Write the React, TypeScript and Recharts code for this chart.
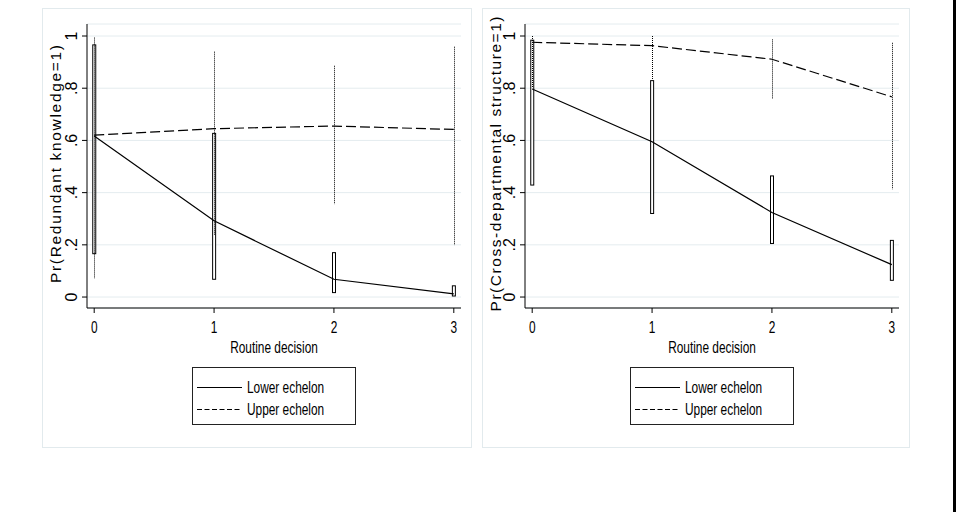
import { Bar, CartesianGrid, ComposedChart, Legend, Line, XAxis, YAxis } from "recharts"

// routine decision levels on the x axis
const decisions = [0, 1, 2, 3]
const yTicks = [0, 0.2, 0.4, 0.6, 0.8, 1]
const yTickLabels = ["0", ".2", ".4", ".6", ".8", "1"]

// Pr(Redundant knowledge=1)
const rkLower = [0.617, 0.292, 0.068, 0.012]
const rkUpper = [0.62, 0.645, 0.655, 0.642]
const rkLowerLo = [0.166, 0.068, 0.017, 0.004]
const rkLowerHi = [0.966, 0.627, 0.17, 0.043]
const rkUpperLo = [0.072, 0.238, 0.356, 0.199]
const rkUpperHi = [0.994, 0.94, 0.886, 0.959]

// Pr(Cross-departmental structure=1)
const csLower = [0.797, 0.595, 0.324, 0.124]
const csUpper = [0.976, 0.963, 0.911, 0.767]
const csLowerLo = [0.429, 0.32, 0.205, 0.064]
const csLowerHi = [0.984, 0.829, 0.464, 0.217]
const csUpperLo = [0.8, 0.831, 0.761, 0.413]
const csUpperHi = [1.0, 1.0, 0.987, 0.974]

const FONT = '"Liberation Sans", Arial, Helvetica, sans-serif'
const GRID = "#e4ecef"
const SQUEEZE = 0.72
const TEXT_SIZE = 16.5
const PANEL_H = 440
const PLOT_TOP = 16
const PLOT_BOTTOM = 300

const dashes: Record<string, string | undefined> = {
  lower: undefined,
  upper: "5 2.5"
}

type PanelProps = {
  left: number
  width: number
  axisWidth: number
  yLabel: string
  yLabelLength: number
  lower: number[]
  upper: number[]
  lowerLo: number[]
  lowerHi: number[]
  upperLo: number[]
  upperHi: number[]
}

function CiBox(props: any) {
  const { x, y, width, height } = props
  if (x == null || y == null) return null
  const top = Math.min(y, y + height)
  return (
    <rect
      x={x + 0.5}
      y={top}
      width={width - 1}
      height={Math.abs(height)}
      fill="#fff"
      stroke="#000"
      strokeWidth={1}
    />
  )
}

function CiSpike(props: any) {
  const { x, y, width, height } = props
  if (x == null || y == null) return null
  const cx = Math.round(x + width / 2) + 0.5
  return (
    <line
      x1={cx}
      x2={cx}
      y1={y}
      y2={y + height}
      stroke="#000"
      strokeWidth={1}
      strokeDasharray="1 1"
    />
  )
}

function LegendBox(props: any) {
  const items = (props.payload || []).filter((p: any) => p.type !== "none")
  return (
    <svg width={164} height={58} style={{ display: "block" }}>
      <rect x={0.5} y={0.5} width={163} height={57} fill="#fff" stroke="#222" />
      {items.map((item: any, i: number) => {
        const cy = 20 + i * 22
        return (
          <g key={item.value}>
            <line
              x1={5}
              x2={50}
              y1={cy + 0.5}
              y2={cy + 0.5}
              stroke="#000"
              strokeWidth={1.2}
              strokeDasharray={dashes[item.dataKey]}
            />
            <text
              transform={`translate(55,${cy + 6}) scale(${SQUEEZE},1)`}
              fontFamily={FONT}
              fontSize={TEXT_SIZE}
              fill="#000"
            >
              {item.value}
            </text>
          </g>
        )
      })}
    </svg>
  )
}

function Panel({
  left,
  width,
  axisWidth,
  yLabel,
  yLabelLength,
  lower,
  upper,
  lowerLo,
  lowerHi,
  upperLo,
  upperHi
}: PanelProps) {
  const rows = decisions.map((d, i) => ({
    decision: d,
    lower: lower[i],
    upper: upper[i],
    lowerCi: [lowerLo[i], lowerHi[i]],
    upperCi: [upperLo[i], upperHi[i]]
  }))
  const plotRight = width - 11
  const legendLeft = Math.round((axisWidth + plotRight) / 2 - 82)

  return (
    <div style={{ position: "absolute", left, top: 8, width, height: PANEL_H }}>
      <div
        style={{
          position: "absolute",
          inset: 0,
          border: "1px solid #e2eaed",
          background: "#fff"
        }}
      />
      <div style={{ position: "absolute", left: 0, top: 0 }}>
        <ComposedChart
          width={width}
          height={PANEL_H}
          data={rows}
          margin={{ top: PLOT_TOP, right: 11, bottom: 100, left: 0 }}
          barGap={-4}
        >
          <CartesianGrid stroke={GRID} vertical={false} />
          <XAxis
            dataKey="decision"
            type="number"
            domain={[-0.06, 3.06]}
            ticks={decisions}
            allowDataOverflow
            height={40}
            tickSize={5}
            stroke="#000"
            axisLine={{ stroke: "#000" }}
            tickLine={{ stroke: "#000" }}
            tick={(p: any) => (
              <text
                transform={`translate(${p.x},${PLOT_BOTTOM + 25}) scale(${SQUEEZE},1)`}
                textAnchor="middle"
                fontFamily={FONT}
                fontSize={TEXT_SIZE}
                fill="#000"
              >
                {p.payload.value}
              </text>
            )}
            label={{
              content: (lp: any) => {
                const vb = lp.viewBox || {}
                return (
                  <text
                    transform={`translate(${vb.x + vb.width / 2},${PLOT_BOTTOM + 45}) scale(${SQUEEZE},1)`}
                    textAnchor="middle"
                    fontFamily={FONT}
                    fontSize={TEXT_SIZE}
                    fill="#000"
                  >
                    Routine decision
                  </text>
                )
              }
            }}
          />
          <YAxis
            type="number"
            domain={[-0.042, 1.046]}
            ticks={yTicks}
            allowDataOverflow
            width={axisWidth}
            tickSize={5}
            axisLine={{ stroke: "#000" }}
            tickLine={{ stroke: "#000" }}
            tick={(p: any) => (
              <text
                transform={`translate(${axisWidth - 10},${p.y}) rotate(-90)`}
                textAnchor="middle"
                fontFamily={FONT}
                fontSize={16}
                fill="#000"
              >
                {yTickLabels[yTicks.indexOf(p.payload.value)]}
              </text>
            )}
            label={{
              content: () => (
                <text
                  transform={`translate(19,${(PLOT_TOP + PLOT_BOTTOM) / 2 - 2}) rotate(-90)`}
                  textAnchor="middle"
                  fontFamily={FONT}
                  fontSize={15.5}
                  fill="#000"
                  textLength={yLabelLength}
                  lengthAdjust="spacing"
                >
                  {yLabel}
                </text>
              )
            }}
          />
          <Bar
            dataKey="lowerCi"
            barSize={4}
            shape={<CiBox />}
            legendType="none"
            isAnimationActive={false}
          />
          <Bar
            dataKey="upperCi"
            barSize={4}
            shape={<CiSpike />}
            legendType="none"
            isAnimationActive={false}
          />
          <Line
            dataKey="lower"
            name="Lower echelon"
            type="linear"
            stroke="#000"
            strokeWidth={1.2}
            dot={false}
            activeDot={false}
            isAnimationActive={false}
          />
          <Line
            dataKey="upper"
            name="Upper echelon"
            type="linear"
            stroke="#000"
            strokeWidth={1.2}
            strokeDasharray="10 4"
            dot={false}
            activeDot={false}
            isAnimationActive={false}
          />
          <Legend
            layout="horizontal"
            verticalAlign="middle"
            align="center"
            width={164}
            height={58}
            content={<LegendBox />}
            wrapperStyle={{ position: "absolute", left: legendLeft, top: 359, width: 164, height: 58 }}
          />
        </ComposedChart>
      </div>
    </div>
  )
}

export default function App() {
  return (
    <div
      style={{
        position: "absolute",
        left: 0,
        top: 0,
        width: 956,
        height: 518,
        background: "#fff",
        fontFamily: FONT
      }}
    >
      <Panel
        left={42}
        width={430}
        axisWidth={45}
        yLabel="Pr(Redundant knowledge=1)"
        yLabelLength={238}
        lower={rkLower}
        upper={rkUpper}
        lowerLo={rkLowerLo}
        lowerHi={rkLowerHi}
        upperLo={rkUpperLo}
        upperHi={rkUpperHi}
      />
      <Panel
        left={482}
        width={428}
        axisWidth={43}
        yLabel="Pr(Cross-departmental structure=1)"
        yLabelLength={295}
        lower={csLower}
        upper={csUpper}
        lowerLo={csLowerLo}
        lowerHi={csLowerHi}
        upperLo={csUpperLo}
        upperHi={csUpperHi}
      />
      <div
        style={{
          position: "absolute",
          left: 953,
          top: 0,
          width: 3,
          height: 512,
          background: "#000"
        }}
      />
    </div>
  )
}
